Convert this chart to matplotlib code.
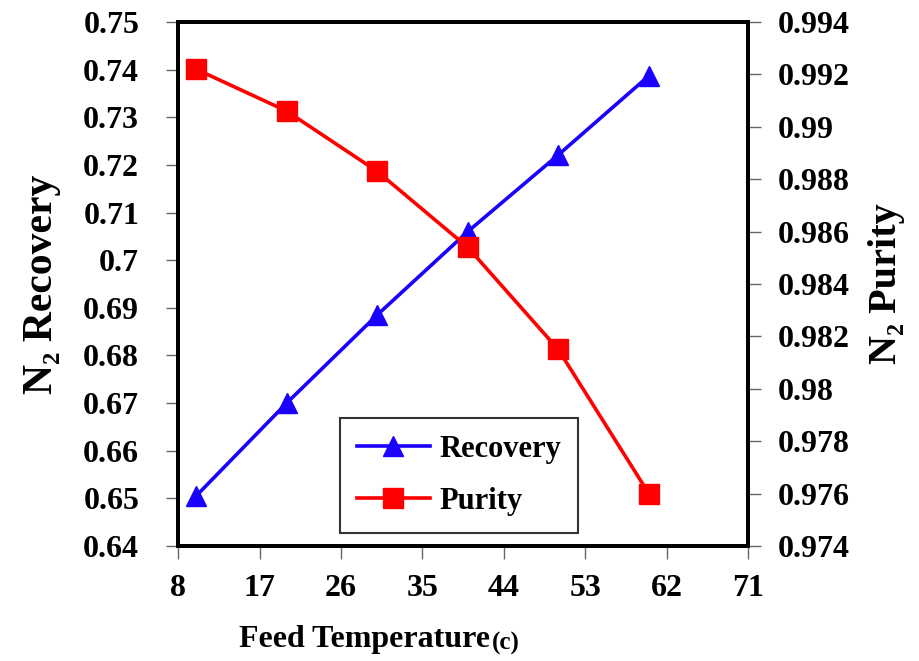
import matplotlib.pyplot as plt

plt.rcParams['font.family'] = ['Liberation Serif', 'DejaVu Serif']
plt.rcParams['font.weight'] = 'bold'

temperature = [10, 20, 30, 40, 50, 60]
recovery = [0.6505, 0.670, 0.6885, 0.706, 0.7221, 0.7387]
purity = [0.9922, 0.9906, 0.9883, 0.9854, 0.9815, 0.9760]

x_ticks = [8, 17, 26, 35, 44, 53, 62, 71]
left_ticks = [0.64, 0.65, 0.66, 0.67, 0.68, 0.69, 0.70, 0.71, 0.72, 0.73, 0.74, 0.75]
left_labels = ["0.64", "0.65", "0.66", "0.67", "0.68", "0.69", "0.7", "0.71", "0.72", "0.73", "0.74", "0.75"]
right_ticks = [0.974, 0.976, 0.978, 0.98, 0.982, 0.984, 0.986, 0.988, 0.99, 0.992, 0.994]
right_labels = ["0.974", "0.976", "0.978", "0.98", "0.982", "0.984", "0.986", "0.988", "0.99", "0.992", "0.994"]

fig = plt.figure(figsize=(9.2, 6.61), dpi=100)
ax = fig.add_axes([0.1935, 0.174, 0.62, 0.7927])
ax2 = ax.twinx()

l1, = ax.plot(temperature, recovery, color="#1a00ff", lw=2.6, marker="^",
              markersize=15, label="Recovery")
l2, = ax2.plot(temperature, purity, color="#ff0000", lw=2.6, marker="s",
               markersize=15, label="Purity")

ax.set_xlim(8, 71)
ax.set_ylim(0.64, 0.75)
ax2.set_ylim(0.974, 0.994)
ax.set_xticks(x_ticks)
ax.set_yticks(left_ticks)
ax.set_yticklabels(left_labels)
ax2.set_yticks(right_ticks)
ax2.set_yticklabels(right_labels)

for a in (ax, ax2):
    for s in a.spines.values():
        s.set_linewidth(2.8)
    a.tick_params(direction="out", length=9, width=1, color="#666666",
                  labelsize=23)
ax.tick_params(axis="y", pad=19)
ax.tick_params(axis="x", pad=11)
ax2.tick_params(axis="y", pad=12)

fig.text(0.396, 0.033, "Feed Temperature", fontsize=23, fontweight="bold",
         ha="center", va="center")
fig.text(0.535, 0.027, "(c)", fontsize=18, fontweight="bold",
         ha="left", va="center")
ax.set_ylabel("N₂ Recovery", fontsize=30, fontweight="bold")
ax.yaxis.set_label_coords(-0.205, 0.5)
ax2.set_ylabel("N₂ Purity", fontsize=29, fontweight="bold")
ax2.yaxis.set_label_coords(1.21, 0.5)

leg = ax.legend(handles=[l1, l2], loc="lower left", bbox_to_anchor=(0.284, 0.025),
                fontsize=22, frameon=True, fancybox=False, edgecolor="black",
                handlelength=2.4, handletextpad=0.3, borderpad=0.55,
                labelspacing=0.75, borderaxespad=0)
leg.get_frame().set_linewidth(1.5)

fig.savefig("out.png", dpi=100)
